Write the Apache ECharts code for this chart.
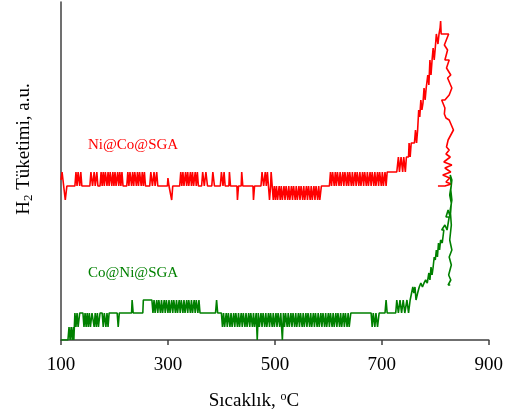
<!DOCTYPE html>
<html>
<head>
<meta charset="utf-8">
<script src="https://cdn.jsdelivr.net/npm/echarts@6/dist/echarts.min.js"></script>
<style>
  html, body { margin: 0; padding: 0; background: #fff; }
  #chart { width: 506px; height: 417px; }
</style>
</head>
<body>
<div id="chart"></div>
<script>
// Temperature axis ticks (°C)
const xTicks = [100, 300, 500, 700, 900];

// H2 uptake signal, [temperature °C, signal a.u.]
// Ni@Co@SGA: flat noisy baseline up to ~710 °C
const redBaseline = [
  [100,160],[102,168],[105,154],[108,140],[111,154],
  [126,154],[128,168],[130,154],[132,168],[135,154],[137,168],[139,154],
  [154,154],[156,168],[159,154],[162,168],[164,154],[167,168],[169,154],
  [173,154],[175,168],[177,154],[179,168],[181,154],[183,168],[186,154],[188,168],[190,154],[192,168],[195,154],[197,168],[199,154],[201,168],[203,154],[206,168],[208,154],[210,168],[212,154],[214,168],[216,154],
  [223,154],[225,168],[227,154],[229,168],[232,154],[234,168],[236,154],[238,168],[241,154],[243,168],[245,154],[247,168],[250,154],[252,168],[254,154],[256,168],[258,154],
  [266,154],[268,168],[271,154],[274,168],[276,154],[279,168],[281,154],
  [299,154],[300,162],[302,154],[305,154],[307,140],[309,154],
  [322,154],[324,168],[326,154],[328,168],[330,154],[333,168],[335,154],[337,168],[339,154],[342,168],[344,154],[346,168],[348,154],[351,168],[353,154],[355,168],[357,154],
  [363,154],[365,168],[368,154],[371,168],[374,154],
  [382,154],[384,168],[387,154],
  [398,154],[400,168],[403,154],[405,168],[407,154],
  [414,154],[415,168],[417,154],
  [429,154],[430,140],[432,154],
  [437,154],[438,168],[440,154],
  [459,154],[460,140],[462,154],
  [474,154],[476,168],[479,154],[482,168],[484,154],[486,168],[488,154],[490,140],[492,154],[493,168],[495,154],[497,140],[499,154],[501,140],[503,154],[505,140],[508,154],[510,140],[512,154],[514,140],[517,154],[519,140],[521,154],[524,140],[526,154],[528,140],[531,154],[533,140],[535,154],[538,140],[540,154],[542,140],[545,154],[547,140],[549,154],[552,140],[554,154],[556,140],[559,154],[561,140],[563,154],[566,140],[568,154],[570,140],[573,154],[575,140],[577,154],[580,140],[582,154],[584,140],[587,154],
  [602,154],[604,168],[606,154],[608,168],[611,154],[613,168],[615,154],[617,168],[620,154],[622,168],[624,154],[627,168],[629,154],[631,168],[634,154],[636,168],[638,154],[640,168],[643,154],[645,168],[647,154],[650,168],[652,154],[654,168],[657,154],[659,168],[661,154],[664,168],[666,154],[668,168],[671,154],[673,168],[675,154],[678,168],[680,154],[682,168],[685,154],[687,168],[689,154],[692,168],[694,154],[696,168],[699,154],[701,168],[703,154],[706,168],[708,154],[710,168]
];
// Ni@Co@SGA: reduction peak and decay at the final temperature
const redPeak = [
  [728,168],[731,183],[733,168],[736,183],[739,168],[741,183],[744,168],[746,183],[750,183],[751,197],[753,183],[755,197],[761,197],[763,210],[765,197],[767,210],[769,230],[771,223],[773,240],[775,230],[777,237],[779,252],[781,240],[783,252],[786,265],[788,255],[790,280],[792,265],[794,280],[796,292],[798,280],[800,292],[802,306],[805,296],[807,306],[809,312],[810,319],[811,306],[818,306],[825,306],
  [817,295],[823,290],[818,280],[826,280],[821,272],[829,265],[823,262],[831,252],[833,250],[826,245],[818,240],[812,240],[818,232],[821,230],[817,226],[820,222],[826,220],[834,210],[829,205],[824,200],[821,193],[826,190],[820,186],[828,183],[816,178],[831,175],[818,172],[829,168],[814,165],[827,162],[820,158],[830,156],[818,154],[805,154]
];

// Co@Ni@SGA: noisy baseline up to ~700 °C
const greenBaseline = [
  [100,0],[113,0],[115,13],[117,0],[119,13],[121,0],[123,13],[124,0],[126,27],[128,13],[130,27],[132,13],[135,27],
  [141,27],[143,13],[145,27],[147,13],[149,27],[151,13],[153,27],[155,13],[158,27],
  [162,13],[164,27],[166,13],[168,27],[170,13],[173,27],
  [177,27],[179,13],[181,27],[184,13],[186,27],[188,13],[190,27],
  [205,27],[207,13],[209,27],
  [232,27],[233,40],[235,27],[253,27],[254,40],[270,40],
  [272,27],[274,40],[276,27],[279,40],[281,27],[283,40],[286,27],[288,40],[290,27],[293,40],[295,27],[297,40],[300,27],[302,40],[304,27],[307,40],[309,27],[311,40],[314,27],[316,40],[318,27],[321,40],[323,27],[325,40],[328,27],[330,40],[332,27],[335,40],[337,27],[339,40],[342,27],[344,40],[346,27],[349,40],[351,27],[353,40],[356,27],[358,40],[360,27],[363,27],
  [389,27],[391,40],[393,27],[400,27],
  [402,13],[404,27],[406,13],[409,27],[411,13],[413,27],[416,13],[418,27],[420,13],[423,27],[425,13],[427,27],[430,13],[432,27],[434,13],[437,27],[439,13],[441,27],[444,13],[446,27],[448,13],[451,27],[453,13],[455,27],[458,13],[460,27],[462,13],[465,27],[467,0],[469,27],[471,13],[474,27],[476,13],[478,27],[481,13],[483,27],[485,13],[488,27],[490,13],[492,27],[495,13],[497,27],[499,13],[502,27],[504,13],[506,27],[509,13],[511,27],[514,0],[516,27],[518,13],[520,27],[523,13],[525,27],[527,13],[530,27],[532,13],[534,27],[537,13],[539,27],[541,13],[544,27],[546,13],[548,27],[551,13],[553,27],[555,13],[558,27],[560,13],[562,27],[565,13],[567,27],[569,13],[572,27],[574,13],[576,27],[579,13],[581,27],[583,13],[586,27],[588,13],[590,27],[593,13],[595,27],[597,13],[600,27],[602,13],[604,27],[607,13],[609,27],[611,13],[614,27],[616,13],[618,27],[621,13],[623,27],[625,13],[628,27],[630,13],[632,27],[635,13],[637,27],[639,13],[642,27],[645,27],
  [680,27],[682,13],[684,27],[687,13],[689,27],[692,13],[695,27]
];
// Co@Ni@SGA: rising uptake towards the final temperature
const greenRise = [
  [706,27],[708,40],[710,27],[726,27],[728,40],[731,27],[734,40],[737,27],[740,40],[743,27],[747,40],[750,27],[753,40],[756,40],[758,53],[760,47],[762,53],[764,40],[767,47],[770,53],[773,57],[776,53],[779,57],[782,60],[785,57],[788,67],[790,60],[792,73],[794,65],[796,73],[798,83],[800,80],[802,90],[804,83],[806,97],[808,90],[810,100],[813,97],[816,110],[812,110],[818,115],[822,110],[826,123],[820,123],[824,130],[828,123],[830,137],[827,145],[830,155],[828,165],[831,160],[829,150],[831,140],[828,130],[830,115],[827,100],[831,90],[826,83],[830,75],[825,65],[829,60],[824,55],[828,55]
];

const seriesNames = ['Ni@Co@SGA', 'Co@Ni@SGA'];
const seriesColors = ['#ff0000', '#008000'];

const serif = '"Liberation Serif", "Times New Roman", serif';
const chart = echarts.init(document.getElementById('chart'), null, { renderer: 'canvas' });

chart.setOption({
  animation: false,
  backgroundColor: '#ffffff',
  grid: { left: 61, right: 16, top: 2, bottom: 77, containLabel: false },
  xAxis: {
    type: 'value',
    min: xTicks[0],
    max: xTicks[xTicks.length - 1],
    interval: xTicks[1] - xTicks[0],
    axisLine: { show: true, lineStyle: { color: '#404040', width: 1.5 } },
    axisTick: { show: true, inside: false, length: 5, lineStyle: { color: '#404040', width: 1.5 } },
    axisLabel: { color: '#000', fontFamily: serif, fontSize: 19, margin: 16 },
    splitLine: { show: false }
  },
  yAxis: {
    type: 'value',
    min: 0,
    max: 338,
    axisLine: { show: true, onZero: false, lineStyle: { color: '#404040', width: 1.5 } },
    axisTick: { show: false },
    axisLabel: { show: false },
    splitLine: { show: false }
  },
  series: [
    {
      name: seriesNames[0],
      type: 'line',
      data: redBaseline.concat(redPeak),
      showSymbol: false,
      symbol: 'none',
      lineStyle: { color: seriesColors[0], width: 1.6 },
      z: 2
    },
    {
      name: seriesNames[1],
      type: 'line',
      data: greenBaseline.concat(greenRise),
      showSymbol: false,
      symbol: 'none',
      lineStyle: { color: seriesColors[1], width: 1.6 },
      z: 3
    }
  ],
  graphic: [
    {
      type: 'text', left: 88, top: 138,
      style: { text: seriesNames[0], fill: seriesColors[0], font: '15px ' + serif }
    },
    {
      type: 'text', left: 88, top: 266,
      style: { text: seriesNames[1], fill: seriesColors[1], font: '15px ' + serif }
    },
    {
      type: 'text', x: 24, y: 149, rotation: Math.PI / 2,
      style: {
        text: '{m|H}{s|2}{m| Tüketimi, a.u.}',
        align: 'center', verticalAlign: 'middle',
        rich: {
          m: { fontFamily: serif, fontSize: 19, fill: '#000' },
          s: { fontFamily: serif, fontSize: 13, fill: '#000', padding: [10, 0, 0, 0] }
        }
      }
    },
    {
      type: 'text', x: 254, y: 401,
      style: {
        text: '{m|Sıcaklık, }{s|o}{m|C}',
        align: 'center', verticalAlign: 'middle',
        rich: {
          m: { fontFamily: serif, fontSize: 19, fill: '#000' },
          s: { fontFamily: serif, fontSize: 12, fill: '#000', padding: [0, 0, 8, 0] }
        }
      }
    }
  ]
});
</script>
</body>
</html>
